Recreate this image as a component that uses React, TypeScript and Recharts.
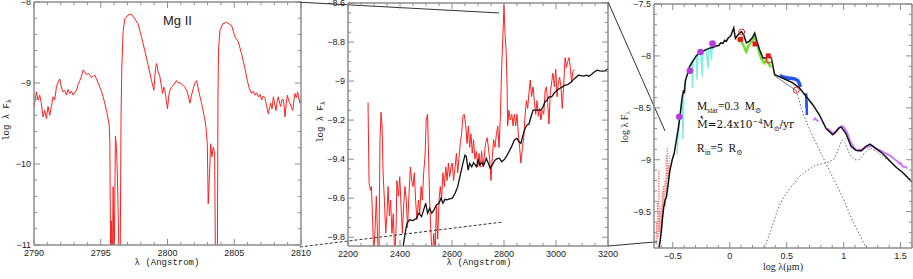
import { ComposedChart, Line, Scatter, XAxis, YAxis, ReferenceLine } from "recharts";

type Pt = [number, number];

// ---------- panel 1 : Mg II h & k ----------
const MG_X_MAJOR = [2790, 2795, 2800, 2805, 2810];
const MG_Y_MAJOR = [-11, -10, -9, -8];
const MG_SPEC: Pt[] = [
  [2790.0, -9.3], [2790.18, -9.11], [2790.3, -9.21], [2790.43, -9.15], [2790.55, -9.25], [2790.68, -9.42],
  [2790.8, -9.34], [2790.93, -9.44], [2791.05, -9.29], [2791.18, -9.4], [2791.3, -9.29], [2791.43, -9.17],
  [2791.55, -9.21], [2791.68, -9.05], [2791.8, -8.99], [2791.93, -8.95], [2792.05, -9.05], [2792.18, -9.11],
  [2792.3, -9.09], [2792.43, -9.15], [2792.55, -9.08], [2792.68, -9.13], [2792.8, -9.1], [2792.93, -9.15],
  [2793.05, -9.12], [2793.18, -9.09], [2793.3, -9.02], [2793.43, -8.97], [2793.55, -8.92], [2793.68, -8.84],
  [2793.8, -8.86], [2793.93, -8.9], [2794.05, -8.88], [2794.18, -8.9], [2794.3, -8.93], [2794.43, -8.92],
  [2794.55, -8.9], [2794.68, -8.95], [2794.8, -9.0], [2794.93, -9.05], [2795.05, -9.1], [2795.18, -9.17],
  [2795.3, -9.25], [2795.43, -9.34], [2795.55, -9.44], [2795.63, -9.52], [2795.68, -9.71], [2795.75, -11.4],
  [2795.8, -10.7], [2795.86, -11.4], [2795.93, -10.28], [2796.0, -11.4], [2796.1, -9.66], [2796.18, -9.8],
  [2796.25, -10.16], [2796.32, -10.73], [2796.38, -11.4], [2796.45, -11.4], [2796.52, -9.4], [2796.58, -8.8],
  [2796.68, -8.35], [2796.8, -8.21], [2797.05, -8.16], [2797.3, -8.15], [2797.55, -8.21], [2797.8, -8.27],
  [2798.05, -8.43], [2798.3, -8.6], [2798.55, -8.78], [2798.8, -8.97], [2798.92, -9.05], [2798.98, -9.09],
  [2799.1, -8.82], [2799.18, -8.76], [2799.3, -8.86], [2799.43, -8.92], [2799.55, -9.05], [2799.63, -9.13],
  [2799.72, -9.05], [2799.8, -9.09], [2799.9, -9.2], [2800.0, -9.32], [2800.1, -9.15], [2800.18, -9.09],
  [2800.3, -9.05], [2800.43, -9.03], [2800.55, -9.0], [2800.68, -8.97], [2800.8, -9.0], [2800.93, -8.99],
  [2801.05, -9.02], [2801.18, -9.03], [2801.3, -9.05], [2801.43, -9.09], [2801.55, -9.15], [2801.68, -9.25],
  [2801.8, -9.15], [2801.93, -9.07], [2802.05, -9.0], [2802.18, -8.97], [2802.28, -9.05], [2802.38, -9.13],
  [2802.48, -9.2], [2802.55, -9.25], [2802.65, -9.33], [2802.73, -9.4], [2802.8, -9.45], [2802.88, -9.54],
  [2802.98, -9.75], [2803.05, -10.49], [2803.15, -10.12], [2803.23, -9.75], [2803.33, -9.91], [2803.43, -9.79],
  [2803.53, -9.87], [2803.6, -11.4], [2803.73, -11.4], [2803.78, -9.2], [2803.82, -8.6], [2803.93, -8.35],
  [2804.13, -8.27], [2804.43, -8.25], [2804.8, -8.29], [2805.05, -8.43], [2805.3, -8.49], [2805.55, -8.64],
  [2805.8, -8.82], [2805.98, -8.97], [2806.13, -9.07], [2806.3, -9.13], [2806.42, -9.1], [2806.55, -9.15],
  [2806.68, -9.12], [2806.8, -9.17], [2806.93, -9.14], [2807.05, -9.21], [2807.18, -9.16], [2807.3, -9.19],
  [2807.42, -9.28], [2807.55, -9.38], [2807.65, -9.3], [2807.73, -9.25], [2807.83, -9.32], [2807.93, -9.17],
  [2808.03, -9.26], [2808.13, -9.34], [2808.22, -9.22], [2808.3, -9.17], [2808.4, -9.25], [2808.48, -9.29],
  [2808.58, -9.2], [2808.68, -9.21], [2808.75, -9.3], [2808.8, -9.42], [2808.9, -9.25], [2808.98, -9.15],
  [2809.08, -9.22], [2809.18, -9.25], [2809.28, -9.3], [2809.38, -9.34], [2809.48, -9.2], [2809.55, -9.13],
  [2809.65, -9.18], [2809.75, -9.11], [2809.85, -9.2], [2809.93, -9.25], [2810.0, -9.22],
];

// ---------- panel 2 : near UV ----------
const UV_X_MAJOR = [2200, 2400, 2600, 2800, 3000, 3200];
const UV_Y_MAJOR = [-9.8, -9.6, -9.4, -9.2, -9, -8.8, -8.6];
const UV_SPEC: Pt[] = [
  [2277, -9.11], [2281, -9.52], [2286, -9.56], [2290, -9.54], [2294, -9.68], [2299, -9.9], [2304, -9.76],
  [2309, -9.59], [2314, -9.81], [2319, -9.9], [2323, -9.3], [2327, -9.16], [2331, -9.23], [2335, -9.47],
  [2340, -9.61], [2345, -9.78], [2350, -9.68], [2354, -9.54], [2359, -9.69], [2364, -9.61], [2369, -9.78],
  [2374, -9.68], [2380, -9.9], [2385, -9.75], [2388, -9.51], [2394, -9.59], [2399, -9.49], [2404, -9.64],
  [2409, -9.78], [2414, -9.64], [2419, -9.54], [2424, -9.61], [2429, -9.75], [2435, -9.57], [2440, -9.44],
  [2445, -9.51], [2450, -9.54], [2455, -9.47], [2460, -9.61], [2465, -9.71], [2471, -9.61], [2476, -9.68],
  [2481, -9.54], [2486, -9.61], [2491, -9.47], [2496, -9.39], [2501, -9.2], [2506, -9.17], [2510, -9.39],
  [2514, -9.61], [2519, -9.78], [2524, -9.9], [2530, -9.78], [2535, -9.9], [2540, -9.64], [2545, -9.81],
  [2550, -9.61], [2555, -9.54], [2560, -9.61], [2565, -9.47], [2571, -9.54], [2576, -9.44], [2581, -9.51],
  [2586, -9.42], [2591, -9.49], [2596, -9.44], [2601, -9.42], [2606, -9.51], [2612, -9.44], [2617, -9.37],
  [2622, -9.47], [2627, -9.39], [2632, -9.32], [2637, -9.27], [2642, -9.18], [2647, -9.17], [2653, -9.23],
  [2658, -9.32], [2663, -9.23], [2668, -9.34], [2673, -9.27], [2678, -9.37], [2683, -9.3], [2688, -9.4],
  [2694, -9.36], [2699, -9.44], [2704, -9.37], [2709, -9.44], [2714, -9.36], [2719, -9.44], [2724, -9.39],
  [2729, -9.32], [2735, -9.29], [2740, -9.34], [2745, -9.4], [2750, -9.51], [2755, -9.39], [2760, -9.3],
  [2765, -9.34], [2771, -9.27], [2776, -9.23], [2781, -9.34], [2786, -9.18], [2791, -8.93], [2796, -8.76],
  [2800, -8.61], [2804, -8.76], [2808, -8.84], [2812, -9.03], [2814, -9.23], [2819, -9.15], [2824, -9.2],
  [2830, -9.17], [2835, -9.23], [2840, -9.17], [2845, -9.23], [2850, -9.17], [2855, -9.27], [2860, -9.34],
  [2865, -9.42], [2871, -9.34], [2876, -9.29], [2881, -9.18], [2886, -9.1], [2891, -9.14], [2896, -9.06],
  [2901, -8.995], [2906, -9.08], [2912, -9.03], [2917, -9.11], [2922, -9.17], [2927, -9.1], [2932, -9.18],
  [2937, -9.14], [2942, -9.2], [2947, -9.15], [2953, -9.17], [2958, -9.05], [2963, -9.03], [2968, -9.11],
  [2973, -9.22], [2978, -9.06], [2983, -9.01], [2988, -8.96], [2994, -9.03], [2999, -8.94], [3004, -9.08],
  [3009, -9.01], [3014, -8.98], [3019, -9.03], [3024, -9.14], [3030, -9.01], [3035, -8.88], [3040, -8.93],
  [3045, -8.9], [3050, -8.88], [3055, -8.93], [3060, -9.01], [3065, -8.95], [3071, -8.94],
];
const UV_MODEL: Pt[] = [
  [2405, -9.9], [2412, -9.848], [2422, -9.762], [2427, -9.728], [2437, -9.711], [2450, -9.715], [2463, -9.703],
  [2473, -9.677], [2483, -9.694], [2491, -9.66], [2499, -9.626], [2506, -9.677], [2514, -9.652], [2522, -9.677],
  [2529, -9.664], [2540, -9.635], [2550, -9.626], [2558, -9.6], [2565, -9.626], [2573, -9.606], [2581, -9.609],
  [2591, -9.604], [2601, -9.6], [2612, -9.575], [2622, -9.541], [2632, -9.481], [2642, -9.422], [2650, -9.379],
  [2655, -9.387], [2662, -9.456], [2668, -9.422], [2676, -9.439], [2683, -9.418], [2694, -9.439], [2701, -9.401],
  [2706, -9.43], [2714, -9.418], [2722, -9.432], [2732, -9.396], [2740, -9.422], [2747, -9.447], [2758, -9.422],
  [2765, -9.405], [2776, -9.396], [2783, -9.396], [2791, -9.413], [2799, -9.405], [2809, -9.387], [2819, -9.362],
  [2829, -9.336], [2840, -9.302], [2850, -9.294], [2858, -9.311], [2865, -9.319], [2873, -9.277], [2881, -9.243],
  [2888, -9.226], [2896, -9.22], [2904, -9.183], [2912, -9.149], [2922, -9.149], [2932, -9.149], [2942, -9.149],
  [2950, -9.132], [2958, -9.106], [2965, -9.098], [2973, -9.081], [2983, -9.081], [2994, -9.06], [3004, -9.047],
  [3014, -9.038], [3024, -9.03], [3035, -9.021], [3045, -9.018], [3055, -9.009], [3065, -8.995], [3076, -8.982],
  [3086, -8.97], [3096, -8.972], [3106, -8.975], [3117, -8.97], [3127, -8.975], [3137, -8.965], [3147, -8.953],
  [3158, -8.944], [3168, -8.948], [3178, -8.949], [3188, -8.948], [3200, -8.936],
];
// zoom connectors from panel 1 into panel 2
const UV_LINK_TOP: Pt[] = [[2015, -8.596], [2781, -8.651]];
const UV_LINK_BOTTOM: Pt[] = [[2015, -9.85], [2796, -9.722]];

// ---------- panel 3 : SED ----------
const SED_X_MAJOR = [-0.5, 0, 0.5, 1, 1.5];
const SED_Y_MAJOR = [-9.5, -9, -8.5, -8, -7.5];
const SED_MODEL: Pt[] = [
  [-0.625, -9.87], [-0.612, -9.79], [-0.6, -9.68], [-0.59, -9.56], [-0.58, -9.46], [-0.568, -9.39], [-0.556, -9.36],
  [-0.545, -9.27], [-0.525, -9.1], [-0.505, -9.0], [-0.488, -8.94], [-0.47, -8.82], [-0.452, -8.7], [-0.435, -8.56],
  [-0.418, -8.4], [-0.405, -8.33], [-0.398, -8.36], [-0.39, -8.24], [-0.373, -8.18], [-0.352, -8.1], [-0.324, -8.05],
  [-0.294, -8.0], [-0.265, -7.97], [-0.236, -7.955], [-0.207, -7.94], [-0.177, -7.925], [-0.148, -7.92],
  [-0.119, -7.905], [-0.095, -7.9], [-0.08, -7.875], [-0.06, -7.88], [-0.045, -7.85], [-0.031, -7.86],
  [-0.015, -7.83], [0, -7.815], [0.012, -7.8], [0.023, -7.765], [0.035, -7.73], [0.045, -7.8], [0.05, -7.83],
  [0.073, -7.795], [0.102, -7.765], [0.122, -7.795], [0.146, -7.875], [0.169, -7.86], [0.198, -7.825],
  [0.219, -7.78], [0.239, -7.86], [0.262, -7.94], [0.292, -8.02], [0.321, -8.02], [0.344, -7.99], [0.365, -8.02],
  [0.394, -8.18], [0.437, -8.2], [0.496, -8.23], [0.554, -8.26], [0.612, -8.31], [0.671, -8.39], [0.729, -8.47],
  [0.788, -8.57], [0.846, -8.7], [0.904, -8.76], [0.933, -8.73], [0.962, -8.69], [0.98, -8.685], [1.021, -8.75],
  [1.065, -8.87], [1.108, -8.91], [1.152, -8.915], [1.196, -8.87], [1.231, -8.85], [1.283, -8.89], [1.342, -8.94],
  [1.4, -9.005], [1.458, -9.07], [1.516, -9.12], [1.6, -9.215],
];
const SED_STAR_NEAR: Pt[] = [[0.394, -8.19], [0.44, -8.225], [0.49, -8.265], [0.54, -8.3], [0.584, -8.335]];
const SED_STAR: Pt[] = [
  [0.584, -8.335], [0.641, -8.55], [0.729, -8.78], [0.816, -8.97], [0.904, -9.17], [0.991, -9.36], [1.079, -9.59],
  [1.166, -9.78], [1.21, -9.88],
];
const SED_DISK: Pt[] = [
  [0.306, -9.85], [0.36, -9.68], [0.409, -9.52], [0.437, -9.44], [0.475, -9.36], [0.525, -9.28], [0.57, -9.22],
  [0.612, -9.16], [0.66, -9.12], [0.7, -9.09], [0.75, -9.055], [0.787, -9.045], [0.83, -9.035], [0.875, -9.02],
  [0.919, -8.99], [0.956, -8.89], [0.986, -8.81], [1.015, -8.845], [1.05, -8.94], [1.094, -9.0], [1.137, -9.0],
  [1.181, -8.94], [1.231, -8.885], [1.283, -8.915], [1.371, -8.99], [1.458, -9.065], [1.546, -9.15], [1.6, -9.2],
];
const SED_IUE: Pt[] = [
  [-0.648, -9.78], [-0.643, -9.6], [-0.638, -9.82], [-0.633, -9.4], [-0.628, -9.75], [-0.623, -9.1], [-0.618, -9.7],
  [-0.613, -9.5], [-0.608, -9.78], [-0.603, -9.45], [-0.598, -9.65], [-0.593, -9.3], [-0.588, -9.55], [-0.583, -9.25],
  [-0.578, -9.45], [-0.573, -9.35], [-0.568, -9.2], [-0.563, -9.45], [-0.558, -8.95], [-0.553, -9.3], [-0.548, -8.88],
  [-0.543, -9.2], [-0.538, -9.05], [-0.533, -9.15], [-0.528, -8.95],
];
const SED_OPTICAL: Pt[] = [
  [-0.462, -8.95], [-0.455, -8.8], [-0.448, -8.72], [-0.44, -8.62], [-0.432, -8.55], [-0.424, -8.47], [-0.416, -8.42],
  [-0.41, -8.8], [-0.404, -8.36], [-0.398, -8.3], [-0.39, -8.26], [-0.382, -8.21], [-0.372, -8.18], [-0.362, -8.14],
  [-0.352, -8.11], [-0.344, -8.08], [-0.334, -8.06], [-0.327, -8.31], [-0.32, -8.04], [-0.308, -8.02], [-0.296, -8.0],
  [-0.286, -8.23], [-0.28, -7.99], [-0.266, -7.98], [-0.254, -7.96], [-0.242, -8.2], [-0.236, -7.96], [-0.222, -7.95],
  [-0.208, -7.94], [-0.19, -8.12], [-0.184, -7.93], [-0.17, -7.92], [-0.16, -8.04], [-0.154, -7.91],
];
const SED_NIR: Pt[] = [
  [0.065, -7.83], [0.075, -7.85], [0.085, -7.86], [0.095, -7.84], [0.105, -7.86], [0.115, -7.89], [0.125, -7.91],
  [0.135, -7.94], [0.145, -7.96], [0.155, -7.93], [0.165, -7.9], [0.175, -7.89], [0.185, -7.87], [0.195, -7.86],
  [0.205, -7.84], [0.215, -7.82], [0.225, -7.84], [0.235, -7.87], [0.245, -7.91], [0.255, -7.95], [0.265, -7.99],
  [0.275, -8.02], [0.285, -8.04], [0.295, -8.06], [0.305, -8.07], [0.315, -8.05], [0.325, -8.04], [0.335, -8.06],
  [0.345, -8.08], [0.36, -8.11],
];
const SED_LBAND: Pt[] = [
  [0.44, -8.19], [0.46, -8.2], [0.48, -8.205], [0.5, -8.21], [0.52, -8.215], [0.54, -8.215], [0.56, -8.22],
  [0.58, -8.225], [0.6, -8.24], [0.612, -8.27], [0.62, -8.3],
];
const SED_MBAND: Pt[] = [[0.671, -8.36], [0.673, -8.5], [0.675, -8.43], [0.677, -8.57]];
const SED_IRS_SHORT: Pt[] = [[0.735, -8.62], [0.75, -8.6], [0.765, -8.62], [0.78, -8.63]];
const SED_IRS: Pt[] = [
  [0.86, -8.7], [0.875, -8.715], [0.89, -8.73], [0.905, -8.74], [0.919, -8.745], [0.935, -8.72], [0.95, -8.7],
  [0.962, -8.695], [0.975, -8.68], [0.99, -8.675], [1.005, -8.69], [1.02, -8.72], [1.035, -8.75], [1.05, -8.8],
  [1.065, -8.84], [1.079, -8.86], [1.094, -8.89], [1.11, -8.905], [1.122, -8.91], [1.137, -8.9], [1.152, -8.905],
  [1.166, -8.905], [1.18, -8.89], [1.196, -8.88], [1.21, -8.875], [1.225, -8.87], [1.24, -8.865], [1.254, -8.87],
  [1.27, -8.885], [1.285, -8.895], [1.298, -8.9], [1.315, -8.905], [1.33, -8.915], [1.341, -8.92], [1.36, -8.935],
  [1.38, -8.945], [1.4, -8.955], [1.42, -8.97], [1.44, -8.99], [1.458, -9.005], [1.475, -9.02], [1.49, -9.04],
  [1.5, -9.03], [1.516, -9.06], [1.53, -9.07], [1.545, -9.07], [1.56, -9.085],
];
const SED_PHOT_BLUE: Pt[] = [[-0.443, -8.586], [-0.35, -8.144], [-0.257, -7.963], [-0.151, -7.882]];
const SED_PHOT_FILLED: Pt[] = [[0.095, -7.84], [0.222, -7.885], [0.338, -8.0]];
const SED_PHOT_OPEN: Pt[] = [[0.105, -7.77], [0.344, -8.04], [0.584, -8.33]];
// zoom connectors from panel 2 into panel 3
const SED_LINK_TOP: Pt[] = [[-1.069, -7.478], [-0.568, -8.724]];
const SED_LINK_BOTTOM: Pt[] = [[-1.069, -9.831], [-0.639, -9.79]];

const FRAME = "#8c8c8c";
const SANS = "'Liberation Sans', Arial, sans-serif";
const MONO = "'Liberation Mono', 'DejaVu Sans Mono', monospace";
const SERIF = "'Liberation Serif', 'DejaVu Serif', serif";

const xy = (a: Pt[]) => a.map(([x, y]) => ({ x, y }));
const fmt = (v: number) => String(v).replace("-", "\u2212");

// tick positions between the labelled ones
function steps(from: number, to: number, step: number) {
  const out: number[] = [];
  const n = Math.round((to - from) / step);
  for (let i = 0; i <= n; i++) out.push(Math.round((from + i * step) * 1000) / 1000);
  return out;
}

type Side = "bottom" | "top" | "left" | "right";

// ticks point inwards, as on the original plot
function tickFor(side: Side, majors: number[]) {
  return (p: any) => {
    const v = p.payload.value;
    const big = majors.some((m) => Math.abs(m - v) < 1e-6);
    const len = big ? 6 : 3;
    const dx = side === "left" ? len : side === "right" ? -len : 0;
    const dy = side === "bottom" ? -len : side === "top" ? len : 0;
    return (
      <g>
        <line x1={p.x} y1={p.y} x2={p.x + dx} y2={p.y + dy} stroke={FRAME} strokeWidth={1} />
        {big && side === "bottom" && (
          <text x={p.x} y={p.y + 10.5} textAnchor="middle" fontSize={9} fontFamily={SANS} fill="#222">
            {fmt(v)}
          </text>
        )}
        {big && side === "left" && (
          <text x={p.x - 3} y={p.y + 3} textAnchor="end" fontSize={9} fontFamily={SANS} fill="#222">
            {fmt(v)}
          </text>
        )}
      </g>
    );
  };
}

function frame(xd: number[], xt: number[], xm: number[], yd: number[], yt: number[], ym: number[], yw: number) {
  const common = {
    type: "number" as const,
    allowDataOverflow: true,
    interval: 0 as const,
    tickSize: 0,
    tickMargin: 0,
    tickLine: false,
    axisLine: { stroke: FRAME, strokeWidth: 1.5 },
  };
  return [
    <XAxis key="xb" dataKey="x" domain={xd} ticks={xt} height={30} tick={tickFor("bottom", xm)} {...common} />,
    <XAxis key="xt" xAxisId="t" orientation="top" dataKey="x" domain={xd} ticks={xt} height={1} tick={tickFor("top", xm)} {...common} />,
    <YAxis key="yl" dataKey="y" domain={yd} ticks={yt} width={yw} tick={tickFor("left", ym)} {...common} />,
    <YAxis key="yr" yAxisId="r" orientation="right" dataKey="y" domain={yd} ticks={yt} width={1} tick={tickFor("right", ym)} {...common} />,
  ];
}

function MgPanel() {
  return (
    <ComposedChart width={305} height={279} margin={{ top: 1, right: 3, bottom: 4, left: 0 }}>
      {frame([2790, 2810], steps(2790, 2810, 1), MG_X_MAJOR, [-11, -8], steps(-11, -8, 0.2), MG_Y_MAJOR, 34)}
      <Line data={xy(MG_SPEC)} dataKey="y" stroke="#ff2020" strokeWidth={1} dot={false} isAnimationActive={false} />
    </ComposedChart>
  );
}

function UvPanel() {
  return (
    <ComposedChart width={315} height={279} margin={{ top: 2, right: 4, bottom: 3, left: 0 }}>
      {frame([2200, 3200], steps(2200, 3200, 50), UV_X_MAJOR, [-9.845, -8.6], steps(-9.8, -8.6, 0.05), UV_Y_MAJOR, 50)}
      <Line data={xy(UV_SPEC)} dataKey="y" stroke="#ff2020" strokeWidth={1} dot={false} isAnimationActive={false} />
      <Line data={xy(UV_MODEL)} dataKey="y" stroke="#111" strokeWidth={1.3} dot={false} isAnimationActive={false} />
      <ReferenceLine segment={xy(UV_LINK_TOP)} stroke="#333" strokeWidth={1} ifOverflow="visible" />
      <ReferenceLine segment={xy(UV_LINK_BOTTOM)} stroke="#333" strokeWidth={1} strokeDasharray="3 2" ifOverflow="visible" />
    </ComposedChart>
  );
}

const square = (p: any) => <rect x={p.cx - 2.5} y={p.cy - 2.5} width={5} height={5} fill="#ee1111" />;
const ring = (p: any) => <circle cx={p.cx} cy={p.cy} r={3} fill="none" stroke="#ee2222" strokeWidth={1} />;
const disc = (p: any) => <circle cx={p.cx} cy={p.cy} r={3.3} fill="#b43cdc" />;

function SedPanel() {
  const thin = { dot: false, isAnimationActive: false, dataKey: "y" };
  return (
    <ComposedChart width={308} height={279} margin={{ top: 3, right: 0, bottom: 1, left: 0 }}>
      {frame([-0.665, 1.6], steps(-0.6, 1.6, 0.1), SED_X_MAJOR, [-9.85, -7.5], steps(-9.8, -7.5, 0.1), SED_Y_MAJOR, 49)}
      <Line data={xy(SED_IUE)} stroke="#ff4848" strokeWidth={0.8} strokeDasharray="1 1.5" {...thin} />
      <Line data={xy(SED_OPTICAL)} stroke="#7ff0e0" strokeWidth={1.5} {...thin} />
      <Line data={xy(SED_NIR)} stroke="#77dd33" strokeWidth={2.5} {...thin} />
      <Line data={xy(SED_LBAND)} stroke="#2255ee" strokeWidth={3.5} {...thin} />
      <Line data={xy(SED_MBAND)} stroke="#2255ee" strokeWidth={2.5} {...thin} />
      <Line data={xy(SED_IRS_SHORT)} stroke="#d27aff" strokeWidth={2} {...thin} />
      <Line data={xy(SED_IRS)} stroke="#d27aff" strokeWidth={2} {...thin} />
      <Line data={xy(SED_STAR_NEAR)} stroke="#777" strokeWidth={1} {...thin} />
      <Line data={xy(SED_STAR)} stroke="#666" strokeWidth={1} strokeDasharray="1.5 2" {...thin} />
      <Line data={xy(SED_DISK)} stroke="#666" strokeWidth={1} strokeDasharray="1.5 2" {...thin} />
      <Line data={xy(SED_MODEL)} stroke="#111" strokeWidth={1.5} {...thin} />
      <Scatter data={xy(SED_PHOT_BLUE)} dataKey="y" shape={disc} isAnimationActive={false} />
      <Scatter data={xy(SED_PHOT_FILLED)} dataKey="y" shape={square} isAnimationActive={false} />
      <Scatter data={xy(SED_PHOT_OPEN)} dataKey="y" shape={ring} isAnimationActive={false} />
      <ReferenceLine segment={xy(SED_LINK_TOP)} stroke="#333" strokeWidth={1} ifOverflow="visible" />
      <ReferenceLine segment={xy(SED_LINK_BOTTOM)} stroke="#333" strokeWidth={1} ifOverflow="visible" />
    </ComposedChart>
  );
}

// axis titles and the text written inside the panels
function Labels() {
  const yTitle = (x: number, y: number, font: string, size: number) => (
    <text transform={`translate(${x},${y}) rotate(-90)`} textAnchor="middle" fontFamily={font} fontSize={size} fill="#222">
      log λ F<tspan fontSize={size * 0.7} dy={2}>λ</tspan>
    </text>
  );
  return (
    <svg width={913} height={279} style={{ position: "absolute", left: 0, top: 0, pointerEvents: "none" }}>
      <text x={163} y={25} fontFamily={SANS} fontSize={13} fill="#222">Mg II</text>
      {yTitle(9, 120, MONO, 9)}
      {yTitle(323, 122, MONO, 9)}
      {yTitle(628, 127, SERIF, 10)}
      <text x={167} y={265} textAnchor="middle" fontFamily={MONO} fontSize={9} fill="#222">λ (Angstrom)</text>
      <text x={479} y={265} textAnchor="middle" fontFamily={MONO} fontSize={9} fill="#222">λ (Angstrom)</text>
      <text x={783} y={270} textAnchor="middle" fontFamily={SERIF} fontSize={10} fill="#222">log λ(μm)</text>
      <text x={697} y={110} fontFamily={SERIF} fontSize={11.5} fill="#111">
        M<tspan fontSize={7.5} dy={2.5}>star</tspan>
        <tspan dy={-2.5}>=0.3{"\u00a0\u00a0"}M</tspan>
        <tspan fontSize={7.5} dy={2.5}>⊙</tspan>
      </text>
      <text x={701.5} y={120.5} textAnchor="middle" fontFamily={SERIF} fontSize={12} fontWeight="bold" fill="#111">·</text>
      <text x={697} y={128} fontFamily="'DejaVu Serif', serif" fontSize={10.5} fill="#111">
        Ṁ=2.4x10<tspan fontSize={7} dy={-4}>−4</tspan>
        <tspan dy={4}>M</tspan>
        <tspan fontSize={7} dy={2.5}>⊙</tspan>
        <tspan dy={-2.5}>/yr</tspan>
      </text>
      <text x={697} y={152} fontFamily={SERIF} fontSize={11.5} fill="#111">
        R<tspan fontSize={7.5} dy={2.5}>in</tspan>
        <tspan dy={-2.5}>=5{"\u00a0\u00a0"}R</tspan>
        <tspan fontSize={7.5} dy={2.5}>⊙</tspan>
      </text>
    </svg>
  );
}

export default function App() {
  return (
    <div style={{ position: "absolute", left: 0, top: 0, width: 913, height: 279, background: "#fff", overflow: "hidden" }}>
      <style>{`.recharts-surface { overflow: visible; }`}</style>
      <div style={{ position: "absolute", left: 0, top: 0 }}>
        <MgPanel />
      </div>
      <div style={{ position: "absolute", left: 298, top: 0 }}>
        <UvPanel />
      </div>
      <div style={{ position: "absolute", left: 605, top: 0 }}>
        <SedPanel />
      </div>
      <Labels />
    </div>
  );
}
